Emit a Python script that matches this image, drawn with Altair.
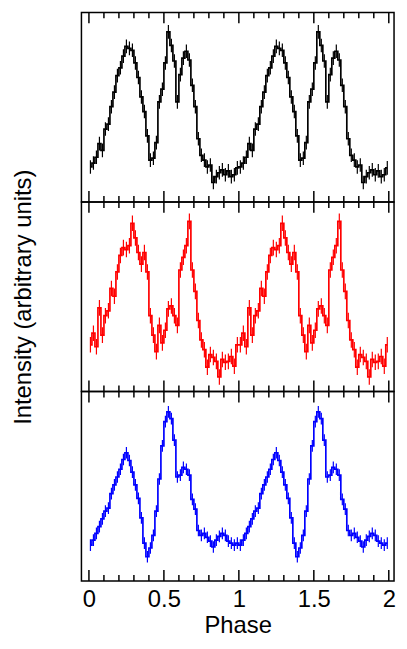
import altair as alt
import pandas as pd

# Bin centres of one pulse cycle (50 phase bins)
PHASE = [0.01, 0.03, 0.05, 0.07, 0.09, 0.11, 0.13, 0.15, 0.17, 0.19,
         0.21, 0.23, 0.25, 0.27, 0.29, 0.31, 0.33, 0.35, 0.37, 0.39,
         0.41, 0.43, 0.45, 0.47, 0.49, 0.51, 0.53, 0.55, 0.57, 0.59,
         0.61, 0.63, 0.65, 0.67, 0.69, 0.71, 0.73, 0.75, 0.77, 0.79,
         0.81, 0.83, 0.85, 0.87, 0.89, 0.91, 0.93, 0.95, 0.97, 0.99]

BLACK = [36, 40, 46, 60, 53, 75, 80, 98, 113, 130,
         138, 150, 160, 158, 156, 143, 128, 108, 93, 68,
         43, 45, 61, 103, 116, 143, 175, 161, 145, 103,
         131, 148, 155, 146, 120, 98, 65, 48, 43, 36,
         38, 20, 26, 30, 33, 28, 32, 26, 28, 35]

RED = [48, 60, 46, 86, 58, 78, 83, 106, 98, 123,
       140, 148, 146, 150, 173, 158, 143, 131, 143, 123,
       78, 58, 41, 68, 50, 63, 85, 88, 78, 68,
       125, 138, 150, 175, 125, 103, 73, 53, 43, 25,
       38, 35, 31, 15, 33, 30, 31, 36, 26, 48]

BLUE = [37, 42, 49, 56, 64, 72, 75, 90, 99, 107,
        115, 125, 132, 124, 112, 99, 85, 65, 39, 25,
        34, 47, 72, 105, 139, 164, 174, 167, 145, 107,
        109, 117, 115, 109, 84, 74, 52, 47, 49, 45,
        41, 35, 42, 46, 49, 47, 41, 39, 37, 39]

ERRORS = [7, 8, 6]
COLORS = ["#000000", "#ff0000", "#0000ff"]

MAJOR_TICKS = [0, 0.5, 1, 1.5, 2]
MINOR_TICKS = [0.1, 0.2, 0.3, 0.4, 0.6, 0.7, 0.8, 0.9,
               1.1, 1.2, 1.3, 1.4, 1.6, 1.7, 1.8, 1.9]

X_DOMAIN = [-0.05, 2.035]
Y_DOMAIN = [0, 195]
W, H = 315, 191
FONT = "Liberation Sans"


def panel(values, err, color, bottom=False, ytitle=False):
    phases = PHASE + [round(p + 1, 3) for p in PHASE]
    vals = values + values
    df = pd.DataFrame({"phase": phases, "value": vals})
    df["lo"] = df["value"] - err
    df["hi"] = df["value"] + err

    if bottom:
        xaxis = alt.Axis(values=MAJOR_TICKS, format="~g", ticks=False, domain=False,
                         grid=False, labelFontSize=24, labelPadding=7,
                         labelColor="black", title="Phase", titleFontSize=24,
                         titlePadding=2, titleFontWeight="normal", titleColor="black",
                         labelFont=FONT, titleFont=FONT, labelFlush=False)
    else:
        xaxis = None
    xs = alt.Scale(domain=X_DOMAIN, nice=False, zero=False)

    def X():
        return alt.X("phase:Q", scale=xs, axis=xaxis)

    if ytitle:
        yaxis = alt.Axis(title="Intensity (arbitrary units)", labels=False, ticks=False,
                         domain=False, grid=False, titleFontSize=24, titlePadding=46,
                         titleFontWeight="normal", titleColor="black", titleFont=FONT)
    else:
        yaxis = None
    ys = alt.Scale(domain=Y_DOMAIN, nice=False, zero=False)

    base = alt.Chart(df)
    errbars = base.mark_rule(color=color, strokeWidth=1.2, clip=True).encode(
        x=X(), y=alt.Y("lo:Q", scale=ys, axis=yaxis), y2="hi:Q")
    line = base.mark_line(color=color, strokeWidth=1.7, interpolate="step", clip=True).encode(
        x=X(), y=alt.Y("value:Q", scale=ys, axis=yaxis))

    major = alt.Chart(pd.DataFrame({"phase": MAJOR_TICKS}))
    minor = alt.Chart(pd.DataFrame({"phase": MINOR_TICKS}))
    tick_layers = [
        major.mark_rule(color="black", strokeWidth=1.5).encode(
            x=X(), y=alt.value(0), y2=alt.value(11)),
        major.mark_rule(color="black", strokeWidth=1.5).encode(
            x=X(), y=alt.value(H), y2=alt.value(H - 11)),
        minor.mark_rule(color="black", strokeWidth=1.5).encode(
            x=X(), y=alt.value(0), y2=alt.value(6)),
        minor.mark_rule(color="black", strokeWidth=1.5).encode(
            x=X(), y=alt.value(H), y2=alt.value(H - 6)),
    ]
    return alt.layer(errbars, line, *tick_layers).properties(width=W, height=H)


p1 = panel(BLACK, ERRORS[0], COLORS[0])
p2 = panel(RED, ERRORS[1], COLORS[1], ytitle=True)
p3 = panel(BLUE, ERRORS[2], COLORS[2], bottom=True)

chart = alt.vconcat(p1, p2, p3, spacing=0, bounds="flush").properties(
    padding={"left": 3, "top": 0, "right": 2, "bottom": 0}
).configure_view(stroke="black", strokeWidth=1.5)

chart.save("out.html", embed_options={"renderer": "svg", "actions": False})
